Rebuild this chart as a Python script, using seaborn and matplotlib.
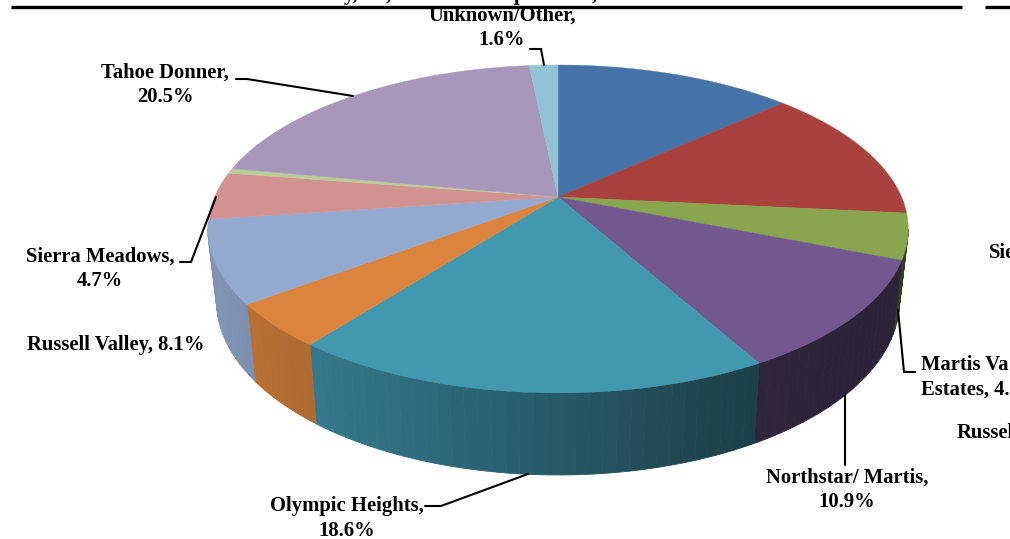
import numpy as np
import matplotlib
matplotlib.use("Agg")
import matplotlib.pyplot as plt
import seaborn as sns

# share of respondents, clockwise from 12 o'clock
shares = [13.3, 13.4, 4.5, 10.9, 18.6, 4.3, 8.1, 4.7, 0.5, 20.5, 1.6]
top_colors = ["#4573a7", "#a9423f", "#89a54e", "#71588f", "#4298af", "#db843d",
              "#93a9cf", "#d19392", "#b9cd96", "#a797ba", "#92c3d5"]

# the last three come from a neighbouring chart cut by the right edge
labels = ["Unknown/Other,\n1.6%", "Tahoe Donner,\n20.5%", "Sierra Meadows,\n4.7%",
          "Russell Valley, 8.1%", "Olympic Heights,\n18.6%", "Northstar/ Martis,\n10.9%",
          "Martis Va\nEstates, 4.", "Sie", "Russel"]
label_x = [502, 165, 100, 116, 347, 847, 921, 989, 957]
label_y = [28, 84.5, 268.5, 345, 518.5, 489.5, 377, 253, 433]
label_ha = ["center", "center", "center", "center", "center", "center", "left", "left", "left"]

leaders = [([530, 541, 544], [49, 49, 65]),
           ([236, 247, 353], [79, 79, 96]),
           ([180, 191, 216], [262, 262, 197]),
           ([425, 441, 528], [506, 506, 474]),
           ([845, 845], [395, 465]),
           ([898, 904, 915], [310, 372, 372])]

# bits of the cut off heading above the rule
heading_bits = ["y,", ",", "p", ","]
heading_x = [344, 386, 514, 592]

# projection of the pie plane
cx, cy = 558, 197
R, s, k = 343.5, 157.7, 0.195
bottom_scale, drop = 0.975, 70

shade_x = [215, 320, 750, 905]
shade_m = [0.87, 0.79, 0.42, 0.38]


def project(theta, scale=1.0, shift=0.0):
    X, Y = np.sin(theta), np.cos(theta)
    w = 1 + k * Y
    return cx + scale * R * X / w, cy + (shift - scale * s * Y) / w


sns.set_theme(style="white")
plt.rcParams["font.family"] = ["Liberation Serif", "DejaVu Serif"]
palette = sns.color_palette(top_colors)

fig, ax = plt.subplots(figsize=(10.1, 5.39), dpi=100)
fig.subplots_adjust(0, 0, 1, 1)
ax.set_xlim(0, 1010)
ax.set_ylim(539, 0)
ax.axis("off")

edges = np.radians(np.cumsum([0] + shares) / sum(shares) * 360)

# wall is seen between the two silhouette points of the ellipse
wall_lo = np.pi - np.arccos(k)
wall_hi = np.pi + np.arccos(k)

for a, b, c in zip(edges[:-1], edges[1:], palette):
    lo, hi = max(a, wall_lo), min(b, wall_hi)
    if hi <= lo:
        continue
    steps = np.linspace(lo, hi, int((hi - lo) * 30) + 2)
    for t0, t1 in zip(steps[:-1], steps[1:]):
        t = np.linspace(t0, t1, 8)
        xt, yt = project(t)
        xb, yb = project(t, bottom_scale, drop)
        m = np.interp(xt.mean(), shade_x, shade_m)
        col = tuple(np.array(c) * m)
        ax.fill(np.r_[xt, xb[::-1]], np.r_[yt, yb[::-1]], color=col, lw=0.6, zorder=2)

# top face
for a, b, c in zip(edges[:-1], edges[1:], palette):
    t = np.linspace(a, b, 80)
    x, y = project(t)
    ax.fill(np.r_[cx, x], np.r_[cy, y], color=c, lw=0.3, zorder=3)

for lx, ly in leaders:
    ax.plot(lx, ly, color="black", lw=1.5, zorder=4, solid_joinstyle="miter")

for txt, x, y, ha in zip(labels, label_x, label_y, label_ha):
    ax.text(x, y, txt, ha=ha, va="center", fontsize=14.9, fontweight="bold",
            linespacing=1.29, color="black", zorder=5)

for txt, x in zip(heading_bits, heading_x):
    ax.text(x, 0, txt, ha="left", va="baseline", fontsize=14.9, fontweight="bold",
            color="black", clip_on=True)

# header rules
ax.plot([11, 962], [6.5, 6.5], color="black", lw=2.4, solid_capstyle="butt")
ax.plot([985, 1010], [6.5, 6.5], color="black", lw=2.4, solid_capstyle="butt")

fig.savefig("out.png", dpi=100)
